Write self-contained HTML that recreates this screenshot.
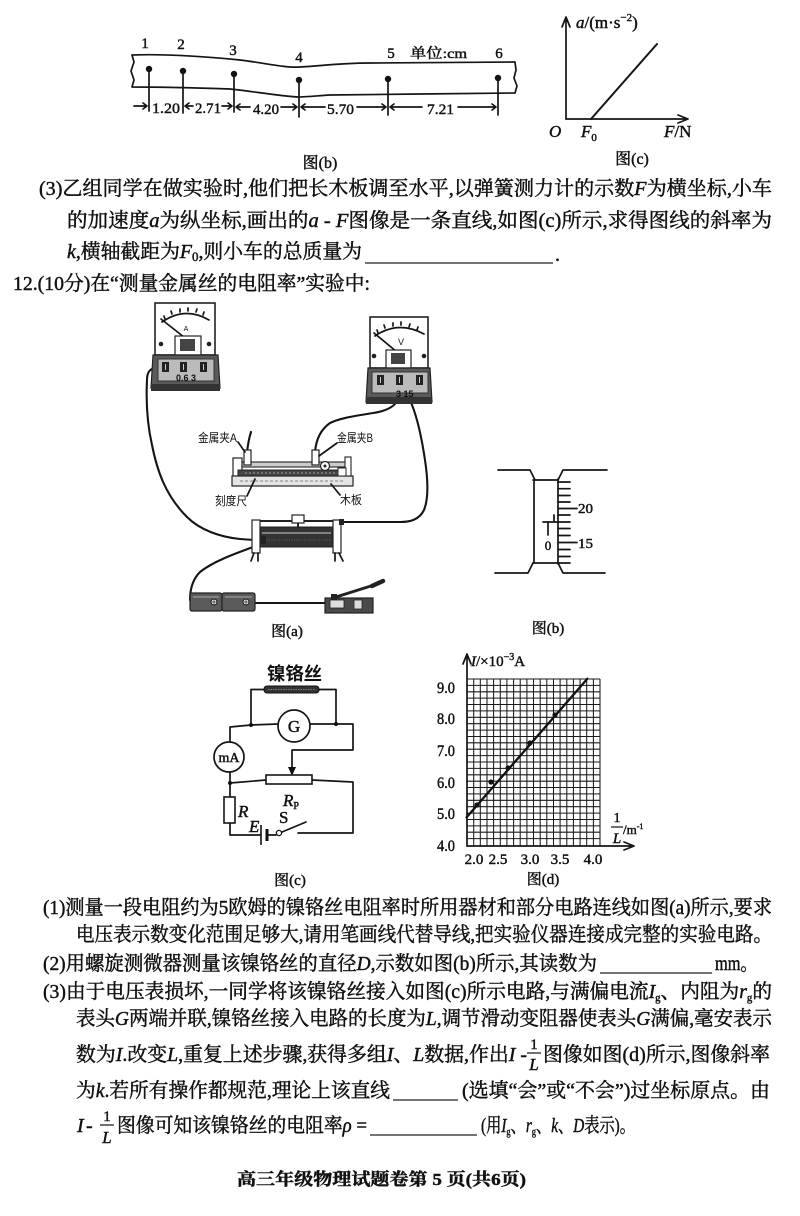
<!DOCTYPE html>
<html>
<head>
<meta charset="utf-8">
<style>
  html,body{margin:0;padding:0;background:#fff;}
  svg{display:block;}
  .t{font-family:"Liberation Serif","Noto Serif CJK SC",serif;fill:#111;stroke:#111;stroke-width:0.45;}
  .s{font-family:"Liberation Sans","Noto Sans CJK SC",sans-serif;fill:#111;}
  .ln{stroke:#151515;fill:none;stroke-width:1.7;stroke-linecap:round;stroke-linejoin:round;}
  .w{stroke:#151515;fill:none;stroke-width:2.1;stroke-linecap:round;}
  .i{font-style:italic;}
</style>
</head>
<body>
<svg width="800" height="1216" viewBox="0 0 800 1216" xmlns="http://www.w3.org/2000/svg">
<rect width="800" height="1216" fill="#fff"/>

<!-- ============ Fig (b) top: paper tape ============ -->
<path class="ln" d="M132,55 C160,54 200,56 240,60 C265,63 285,68 300,67 C320,66 340,63 370,63 L515,62 L516,70 L514,78 L517,86 L515,93 L420,94 L330,95 C315,96 305,97 298,97 C280,96 250,91 230,89 C200,88 170,87 132,87 L134,80 L131,71 L134,62 Z"/>
<g fill="#111">
  <circle cx="149" cy="69" r="3.2"/><circle cx="183" cy="71" r="3.2"/><circle cx="234" cy="74" r="3.2"/>
  <circle cx="299" cy="80" r="3.2"/><circle cx="388" cy="79" r="3.2"/><circle cx="498" cy="78" r="3.2"/>
</g>
<g class="ln">
  <path d="M149,69 V111 M183,71 V113 M234,74 V112 M299,80 V117 M388,79 V115 M498,78 V115"/>
  <path d="M134,106 H147 M143,103 L147,106 L143,109"/>
  <path d="M185,106 H193 M189,103 L185,106 L189,109"/>
  <path d="M222,106 H232 M228,103 L232,106 L228,109"/>
  <path d="M236,107 H250 M240,104 L236,107 L240,110"/>
  <path d="M281,107 H297 M293,104 L297,107 L293,110"/>
  <path d="M301,107 H325 M305,104 L301,107 L305,110"/>
  <path d="M357,107 H386 M382,104 L386,107 L382,110"/>
  <path d="M390,107 H422 M394,104 L390,107 L394,110"/>
  <path d="M458,107 H496 M492,104 L496,107 L492,110"/>
</g>
<g class="t" font-size="15">
  <text x="145" y="48" text-anchor="middle">1</text>
  <text x="181" y="49" text-anchor="middle">2</text>
  <text x="233" y="55" text-anchor="middle">3</text>
  <text x="299" y="62" text-anchor="middle">4</text>
  <text x="391" y="58" text-anchor="middle">5</text>
  <text x="499" y="58" text-anchor="middle">6</text>
  <text x="410" y="58" textLength="57" lengthAdjust="spacingAndGlyphs" font-size="14">单位:cm</text>
  <text x="152" y="113" textLength="28" lengthAdjust="spacingAndGlyphs">1.20</text>
  <text x="195" y="113" textLength="26" lengthAdjust="spacingAndGlyphs">2.71</text>
  <text x="253" y="114" textLength="26" lengthAdjust="spacingAndGlyphs">4.20</text>
  <text x="327" y="114" textLength="27" lengthAdjust="spacingAndGlyphs">5.70</text>
  <text x="427" y="114" textLength="27" lengthAdjust="spacingAndGlyphs">7.21</text>
  <text x="320" y="168" text-anchor="middle" font-size="16">图(b)</text>
</g>

<!-- ============ Fig (c) top: a-F graph ============ -->
<g class="ln">
  <path d="M566,119 V19 M562,27 L566,17 L570,27"/>
  <path d="M566,119 H687 M678,115 L688,119 L678,123"/>
  <path d="M591,119 L657,44" stroke-width="2"/>
</g>
<g class="t" font-size="17">
  <text x="576" y="28"><tspan class="i">a</tspan>/(m·s<tspan font-size="11" dy="-7">−2</tspan><tspan dy="7">)</tspan></text>
  <text x="549" y="137" class="i">O</text>
  <text x="581" y="137" class="i">F<tspan font-size="11" dy="4" font-style="normal">0</tspan></text>
  <text x="664" y="137"><tspan class="i">F</tspan>/N</text>
  <text x="632" y="164" text-anchor="middle" font-size="16">图(c)</text>
</g>

<!-- ============ Text block top ============ -->
<g class="t" font-size="20">
  <text x="39" y="195" textLength="733" lengthAdjust="spacingAndGlyphs">(3)乙组同学在做实验时,他们把长木板调至水平,以弹簧测力计的示数<tspan class="i">F</tspan>为横坐标,小车</text>
  <text x="67" y="227" textLength="705" lengthAdjust="spacingAndGlyphs">的加速度<tspan class="i">a</tspan>为纵坐标,画出的<tspan class="i">a</tspan> - <tspan class="i">F</tspan>图像是一条直线,如图(c)所示,求得图线的斜率为</text>
  <text x="67" y="258" textLength="295" lengthAdjust="spacingAndGlyphs"><tspan class="i">k</tspan>,横轴截距为<tspan class="i">F</tspan><tspan font-size="13" dy="3">0</tspan><tspan dy="-3">,则小车的总质量为</tspan></text>
  <text x="555" y="261">.</text>
  <text x="13" y="290" textLength="357" lengthAdjust="spacingAndGlyphs">12.(10分)在“测量金属丝的电阻率”实验中:</text>
</g>
<path d="M365,263 H553" stroke="#222" stroke-width="1.3"/>

<!-- ============ Fig (a): apparatus ============ -->
<g class="w">
  <path d="M158,367 C150,368 147,372 147,380 C146,400 147,423 152,445 C157,470 165,495 187,517 C200,530 220,537 240,539 C250,540 258,540 266,540"/>
  <path d="M399,382 C399,392 398,398 396,403 C390,410 380,412 373,413 C355,416 340,418 330,423 C320,430 316,440 315,452"/>
  <path d="M403,386 C407,392 410,398 412,405 C418,420 422,440 425,460 C428,480 429,498 424,510 C419,520 410,522 400,522 L343,522"/>
  <path d="M247,452 C248,444 249,438 251,432"/>
  <path d="M264,543 C240,552 215,560 200,572 C192,580 190,590 190,600"/>
  <path d="M255,603 H327"/>
</g>
<!-- ammeter -->
<g>
  <rect x="155" y="303" width="60" height="52" fill="#fff" stroke="#222" stroke-width="1.6"/>
  <path d="M162,322 Q185,306 209,320" class="ln" stroke-width="1.1"/>
  <path d="M165,319 l-1,-3 M172,314 l-1,-3 M180,312 v-3 M188,311 v-3 M196,312 l1,-3 M203,315 l1,-3" class="ln" stroke-width="0.9"/>
  <path d="M161,319 L189,341" class="ln" stroke-width="1.2"/>
  <text x="186" y="331" font-size="7" class="s" text-anchor="middle">A</text>
  <rect x="175" y="336" width="26" height="19" fill="#fff" stroke="#222" stroke-width="1.2"/>
  <rect x="180" y="339" width="15" height="12" fill="#444"/>
  <circle cx="161" cy="344" r="2.3" fill="#222"/><circle cx="209" cy="344" r="2.3" fill="#222"/>
  <path d="M153,355 H218 L220,388 H151 Z" fill="#5a5a5a" stroke="#222" stroke-width="1.2"/>
  <rect x="158" y="359" width="56" height="22" fill="#bbb" stroke="#333" stroke-width="1"/>
  <rect x="162" y="362" width="7" height="10" fill="#222"/><rect x="180" y="362" width="7" height="10" fill="#222"/><rect x="200" y="362" width="7" height="10" fill="#222"/>
  <path d="M165.5,364 v6 M183.5,364 v6 M203.5,364 v6" stroke="#ccc" stroke-width="1"/>
  <text x="176" y="381" font-size="9" class="s" font-weight="bold">0.6  3</text>
  <rect x="151" y="384" width="69" height="7" fill="#333"/>
</g>
<!-- voltmeter -->
<g>
  <rect x="370" y="317" width="58" height="51" fill="#fff" stroke="#222" stroke-width="1.6"/>
  <path d="M375,336 Q398,320 424,334" class="ln" stroke-width="1.1"/>
  <path d="M378,333 l-1,-3 M385,328 l-1,-3 M393,326 v-3 M401,325 v-3 M409,327 l1,-3 M417,330 l1,-3" class="ln" stroke-width="0.9"/>
  <path d="M374,333 L397,352" class="ln" stroke-width="1.2"/>
  <text x="401" y="345" font-size="9" class="s" text-anchor="middle">V</text>
  <rect x="386" y="350" width="25" height="18" fill="#fff" stroke="#222" stroke-width="1.2"/>
  <rect x="391" y="353" width="14" height="11" fill="#444"/>
  <circle cx="374" cy="356" r="2.3" fill="#222"/><circle cx="424" cy="356" r="2.3" fill="#222"/>
  <path d="M368,368 H430 L432,402 H366 Z" fill="#5a5a5a" stroke="#222" stroke-width="1.2"/>
  <rect x="372" y="372" width="56" height="21" fill="#bbb" stroke="#333" stroke-width="1"/>
  <rect x="377" y="375" width="7" height="10" fill="#222"/><rect x="396" y="375" width="7" height="10" fill="#222"/><rect x="416" y="375" width="7" height="10" fill="#222"/>
  <path d="M380.5,377 v6 M399.5,377 v6 M419.5,377 v6" stroke="#ccc" stroke-width="1"/>
  <text x="396" y="397" font-size="9" class="s" font-weight="bold">3  15</text>
  <rect x="366" y="397" width="66" height="7" fill="#333"/>
</g>
<!-- board with wire -->
<g>
  <rect x="233" y="458" width="9" height="19" fill="#fff" stroke="#222" stroke-width="1.2"/>
  <rect x="242" y="462" width="106" height="5" fill="#ccc" stroke="#222" stroke-width="1.1"/>
  <rect x="238" y="470" width="112" height="6" fill="#444" stroke="#222" stroke-width="1"/>
  <path d="M245,473 h100" stroke="#bbb" stroke-width="0.8" stroke-dasharray="2,2"/>
  <rect x="232" y="476" width="121" height="10" fill="#e4e4e4" stroke="#222" stroke-width="1.2"/>
  <path d="M240,481 h105" stroke="#666" stroke-width="0.7" stroke-dasharray="3,2"/>
  <rect x="345" y="457" width="6" height="19" fill="#fff" stroke="#222" stroke-width="1.1"/>
  <rect x="338" y="468" width="8" height="8" fill="#fff" stroke="#222" stroke-width="1"/>
  <rect x="244" y="450" width="7" height="15" fill="#fff" stroke="#222" stroke-width="1.2"/>
  <rect x="312" y="450" width="7" height="15" fill="#fff" stroke="#222" stroke-width="1.2"/>
  <circle cx="325" cy="466" r="4.5" fill="#fff" stroke="#222" stroke-width="1.2"/>
  <circle cx="325" cy="466" r="1.5" fill="#222"/>
  <path d="M238,442 L245,452 M337,443 L319,456 M247,496 L255,479 M340,495 L331,484" class="ln" stroke-width="1"/>
</g>
<g class="s" font-size="12">
  <text x="198" y="442" textLength="39" lengthAdjust="spacingAndGlyphs">金属夹A</text>
  <text x="337" y="442" textLength="36" lengthAdjust="spacingAndGlyphs">金属夹B</text>
  <text x="215" y="505" textLength="32" lengthAdjust="spacingAndGlyphs">刻度尺</text>
  <text x="340" y="504" textLength="22" lengthAdjust="spacingAndGlyphs">木板</text>
</g>
<!-- rheostat -->
<g>
  <path d="M256,521 H340" stroke="#222" stroke-width="2"/>
  <rect x="260" y="527" width="73" height="20" fill="#333" stroke="#222" stroke-width="1"/>
  <path d="M262,533 H331" stroke="#999" stroke-width="1.5"/>
  <path d="M264,540 H330" stroke="#666" stroke-width="1" stroke-dasharray="1,1.5"/>
  <rect x="292" y="515" width="12" height="8" fill="#fff" stroke="#222" stroke-width="1.2"/>
  <path d="M298,523 V528" stroke="#222" stroke-width="2"/>
  <rect x="252" y="520" width="8" height="33" fill="#fff" stroke="#222" stroke-width="1.2"/>
  <rect x="333" y="520" width="8" height="33" fill="#fff" stroke="#222" stroke-width="1.2"/>
  <path d="M254,553 L251,561 M258,553 V561 M335,553 V561 M339,553 L343,561" class="ln" stroke-width="1.6"/>
  <rect x="261" y="536" width="5" height="8" fill="#222"/>
  <rect x="339" y="519" width="5" height="6" fill="#222"/>
</g>
<!-- battery -->
<g>
  <rect x="190" y="593" width="32" height="18" rx="2" fill="#5a5a5a" stroke="#222" stroke-width="1.2"/>
  <rect x="222" y="593" width="33" height="18" rx="2" fill="#5a5a5a" stroke="#222" stroke-width="1.2"/>
  <path d="M193,597 H219 M225,597 H252" stroke="#aaa" stroke-width="1"/>
  <circle cx="214" cy="602" r="3" fill="#fff" stroke="#222"/><circle cx="246" cy="602" r="3" fill="#fff" stroke="#222"/>
  <path d="M211,602 h6 M214,599 v6 M243,602 h6 M246,599 v6" stroke="#222" stroke-width="0.8"/>
</g>
<!-- switch -->
<g>
  <rect x="325" y="598" width="48" height="15" fill="#4a4a4a" stroke="#222" stroke-width="1.2"/>
  <rect x="330" y="600" width="14" height="8" fill="#ddd" stroke="#222" stroke-width="0.8"/>
  <rect x="354" y="600" width="8" height="9" fill="#ddd" stroke="#222" stroke-width="0.8"/>
  <path d="M336,597 L374,585" stroke="#222" stroke-width="3"/>
  <path d="M372,586 L383,581" stroke="#222" stroke-width="4.5" stroke-linecap="round"/>
  <rect x="331" y="594" width="6" height="6" fill="#222"/>
</g>
<text x="287" y="636" class="t" font-size="15" text-anchor="middle">图(a)</text>

<!-- ============ Fig (b): micrometer ============ -->
<g class="ln" stroke-width="1.5">
  <path d="M498,470 H530 L535,480"/>
  <path d="M558,480 L563,470 H607"/>
  <path d="M534,480 V563 M533,480 H558 M533,563 H558"/>
  <path d="M558,479 V564"/>
  <path d="M495,573 H528 L533,563"/>
  <path d="M558,563 L563,573 H605"/>
  <path d="M558,482 H570 M558,488.7 H570 M558,495.5 H570 M558,502 H570 M558,508.5 H577 M558,515 H570 M558,522 H570 M558,528.5 H570 M558,535.5 H570 M558,542.5 H577 M558,549.5 H570 M558,556.5 H570 M558,563 H570"/>
  <path d="M543,522 H558 M554,515 V522 M548,522 V535"/>
</g>
<g class="t" font-size="14">
  <text x="578" y="513" textLength="15" lengthAdjust="spacingAndGlyphs">20</text>
  <text x="578" y="548" textLength="15" lengthAdjust="spacingAndGlyphs">15</text>
  <text x="548" y="550" text-anchor="middle" font-size="13">0</text>
  <text x="548" y="633" text-anchor="middle" font-size="15">图(b)</text>
</g>

<!-- ============ Fig (c): circuit ============ -->
<text x="267" y="680" class="s" font-size="18" textLength="55" lengthAdjust="spacingAndGlyphs" font-weight="bold">镍铬丝</text>
<rect x="264" y="686" width="55" height="7" rx="3" fill="#333" stroke="#111" stroke-width="1"/>
<path d="M268,689.5 H315" stroke="#999" stroke-width="0.8" stroke-dasharray="1.5,1"/>
<g class="ln" stroke-width="1.6">
  <path d="M264,689.5 H251 V725"/>
  <path d="M319,689.5 H336 V724"/>
  <path d="M251,725 L278,724 M310,724 H336"/>
  <path d="M251,725 L230,727 V742"/>
  <path d="M336,724 H353 V750 H292 V768"/>
  <path d="M230,772 V783"/>
  <path d="M230,783 L266,780"/>
  <path d="M312,780 L353,782 V833 H298"/>
  <path d="M230,783 V797 M230,823 V835 H261"/>
  <path d="M267,835 H276"/>
  <path d="M282,832 L306,822"/>
</g>
<circle cx="294" cy="726" r="16" fill="#fff" stroke="#151515" stroke-width="1.7"/>
<circle cx="229" cy="757" r="15" fill="#fff" stroke="#151515" stroke-width="1.7"/>
<circle cx="251" cy="725" r="2" fill="#111"/><circle cx="336" cy="724" r="2" fill="#111"/><circle cx="230" cy="783" r="2" fill="#111"/>
<polygon points="288,767 296,767 292,776" fill="#111"/>
<rect x="266" y="775" width="46" height="9" fill="#fff" stroke="#151515" stroke-width="1.6"/>
<rect x="224" y="797" width="11" height="26" fill="#fff" stroke="#151515" stroke-width="1.6"/>
<path d="M261,825 V845" stroke="#111" stroke-width="1.6"/>
<path d="M267,829 V841" stroke="#111" stroke-width="3"/>
<circle cx="279" cy="833" r="2.6" fill="#fff" stroke="#111" stroke-width="1.3"/>
<g class="t">
  <text x="294" y="732" font-size="17" text-anchor="middle">G</text>
  <text x="229" y="762" font-size="14" text-anchor="middle">mA</text>
  <text x="283" y="806" font-size="17" class="i">R<tspan font-size="10" dy="3" font-style="normal">P</tspan></text>
  <text x="238" y="817" font-size="17" class="i">R</text>
  <text x="249" y="832" font-size="17" class="i">E</text>
  <text x="279" y="823" font-size="17">S</text>
  <text x="290" y="885" font-size="15" text-anchor="middle">图(c)</text>
</g>

<!-- ============ Fig (d): I - 1/L graph ============ -->
<g stroke="#1a1a1a" stroke-width="1.05" fill="none">
  <path d="M467,679 H600 M467,685.4 H600 M467,691.8 H600 M467,698.1 H600 M467,704.5 H600 M467,710.9 H600 M467,717.3 H600 M467,723.7 H600 M467,730.1 H600 M467,736.5 H600 M467,742.8 H600 M467,749.2 H600 M467,755.6 H600 M467,762 H600 M467,768.4 H600 M467,774.8 H600 M467,781.2 H600 M467,787.5 H600 M467,793.9 H600 M467,800.3 H600 M467,806.7 H600 M467,813.1 H600 M467,819.5 H600 M467,825.9 H600 M467,832.2 H600 M467,838.6 H600"/>
  <path d="M473.7,679 V846 M480.3,679 V846 M487,679 V846 M493.6,679 V846 M500.3,679 V846 M506.9,679 V846 M513.6,679 V846 M520.2,679 V846 M526.9,679 V846 M533.5,679 V846 M540.2,679 V846 M546.8,679 V846 M553.5,679 V846 M560.1,679 V846 M566.8,679 V846 M573.4,679 V846 M580.1,679 V846 M586.7,679 V846 M593.4,679 V846 M600,679 V846"/>
</g>
<g class="ln" stroke-width="1.7">
  <path d="M467,846 V656 M463,664 L467,654 L471,664"/>
  <path d="M467,846 H633 M624,842 L634,846 L624,850"/>
</g>
<path d="M466,818 L588,678" stroke="#111" stroke-width="2.3"/>
<g fill="#111">
  <circle cx="477" cy="805" r="2.6"/><circle cx="491" cy="782" r="2.6"/><circle cx="508" cy="768" r="2.6"/>
  <circle cx="530" cy="743" r="2.6"/><circle cx="555" cy="715" r="2.6"/>
</g>
<g class="t" font-size="16">
  <text x="471" y="666" font-size="15"><tspan class="i">I</tspan>/×10<tspan font-size="10" dy="-6">−3</tspan><tspan dy="6">A</tspan></text>
  <text x="437" y="693" textLength="18" lengthAdjust="spacingAndGlyphs">9.0</text>
  <text x="437" y="724" textLength="18" lengthAdjust="spacingAndGlyphs">8.0</text>
  <text x="437" y="756" textLength="18" lengthAdjust="spacingAndGlyphs">7.0</text>
  <text x="437" y="788" textLength="18" lengthAdjust="spacingAndGlyphs">6.0</text>
  <text x="437" y="819" textLength="18" lengthAdjust="spacingAndGlyphs">5.0</text>
  <text x="437" y="851" textLength="18" lengthAdjust="spacingAndGlyphs">4.0</text>
  <text x="474" y="864" text-anchor="middle" font-size="15">2.0</text>
  <text x="498" y="864" text-anchor="middle" font-size="15">2.5</text>
  <text x="530" y="864" text-anchor="middle" font-size="15">3.0</text>
  <text x="560" y="864" text-anchor="middle" font-size="15">3.5</text>
  <text x="593" y="864" text-anchor="middle" font-size="15">4.0</text>
  <text x="617" y="822" text-anchor="middle" font-size="14">1</text>
  <text x="617" y="843" text-anchor="middle" font-size="15" class="i">L</text>
  <text x="623" y="834" font-size="13">/m<tspan font-size="8" dy="-5">-1</tspan></text>
  <text x="543" y="884" text-anchor="middle" font-size="15">图(d)</text>
</g>
<path d="M611,827 H623" stroke="#111" stroke-width="1.2"/>

<!-- ============ Text block bottom ============ -->
<g class="t" font-size="20">
  <text x="43" y="914" textLength="729" lengthAdjust="spacingAndGlyphs">(1)测量一段电阻约为5欧姆的镍铬丝电阻率时所用器材和部分电路连线如图(a)所示,要求</text>
  <text x="76" y="941" textLength="696" lengthAdjust="spacingAndGlyphs">电压表示数变化范围足够大,请用笔画线代替导线,把实验仪器连接成完整的实验电路。</text>
  <text x="43" y="970" textLength="554" lengthAdjust="spacingAndGlyphs">(2)用螺旋测微器测量该镍铬丝的直径<tspan class="i">D</tspan>,示数如图(b)所示,其读数为</text>
  <text x="715" y="970" textLength="42" lengthAdjust="spacingAndGlyphs">mm。</text>
  <text x="43" y="998" textLength="729" lengthAdjust="spacingAndGlyphs">(3)由于电压表损坏,一同学将该镍铬丝接入如图(c)所示电路,与满偏电流<tspan class="i">I</tspan><tspan font-size="11" dy="3">g</tspan><tspan dy="-3">、内阻为</tspan><tspan class="i">r</tspan><tspan font-size="11" dy="3">g</tspan><tspan dy="-3">的</tspan></text>
  <text x="76" y="1025" textLength="696" lengthAdjust="spacingAndGlyphs">表头<tspan class="i">G</tspan>两端并联,镍铬丝接入电路的长度为<tspan class="i">L</tspan>,调节滑动变阻器使表头<tspan class="i">G</tspan>满偏,毫安表示</text>
  <text x="76" y="1061" textLength="451" lengthAdjust="spacingAndGlyphs">数为<tspan class="i">I</tspan>.改变<tspan class="i">L</tspan>,重复上述步骤,获得多组<tspan class="i">I</tspan>、<tspan class="i">L</tspan>数据,作出<tspan class="i">I</tspan> -</text>
  <text x="534" y="1049" text-anchor="middle" font-size="15">1</text>
  <text x="534" y="1070" text-anchor="middle" font-size="17" class="i">L</text>
  <text x="543" y="1061" textLength="227" lengthAdjust="spacingAndGlyphs">图像如图(d)所示,图像斜率</text>
  <text x="76" y="1097" textLength="314" lengthAdjust="spacingAndGlyphs">为<tspan class="i">k</tspan>.若所有操作都规范,理论上该直线</text>
  <text x="462" y="1097" textLength="308" lengthAdjust="spacingAndGlyphs">(选填“会”或“不会”)过坐标原点。由</text>
  <text x="77" y="1132" class="i">I</text>
  <text x="86" y="1132">-</text>
  <text x="107" y="1121" text-anchor="middle" font-size="15">1</text>
  <text x="107" y="1143" text-anchor="middle" font-size="17" class="i">L</text>
  <text x="117" y="1132" textLength="250" lengthAdjust="spacingAndGlyphs">图像可知该镍铬丝的电阻率<tspan class="i">ρ</tspan> =</text>
  <text x="481" y="1132" textLength="154" lengthAdjust="spacingAndGlyphs">(用<tspan class="i">I</tspan><tspan font-size="11" dy="3">g</tspan><tspan dy="-3">、</tspan><tspan class="i">r</tspan><tspan font-size="11" dy="3">g</tspan><tspan dy="-3">、</tspan><tspan class="i">k</tspan>、<tspan class="i">D</tspan>表示)。</text>
</g>
<g stroke="#222" stroke-width="1.3">
  <path d="M600,973 H712"/>
  <path d="M393,1100 H458"/>
  <path d="M370,1135 H477"/>
  <path d="M527,1053 H541"/>
  <path d="M100,1125 H114"/>
</g>

<!-- footer -->
<text x="237" y="1185" class="t" font-size="17" font-weight="bold" textLength="289" lengthAdjust="spacingAndGlyphs">高三年级物理试题卷第 5 页(共6页)</text>
</svg>
</body>
</html>
